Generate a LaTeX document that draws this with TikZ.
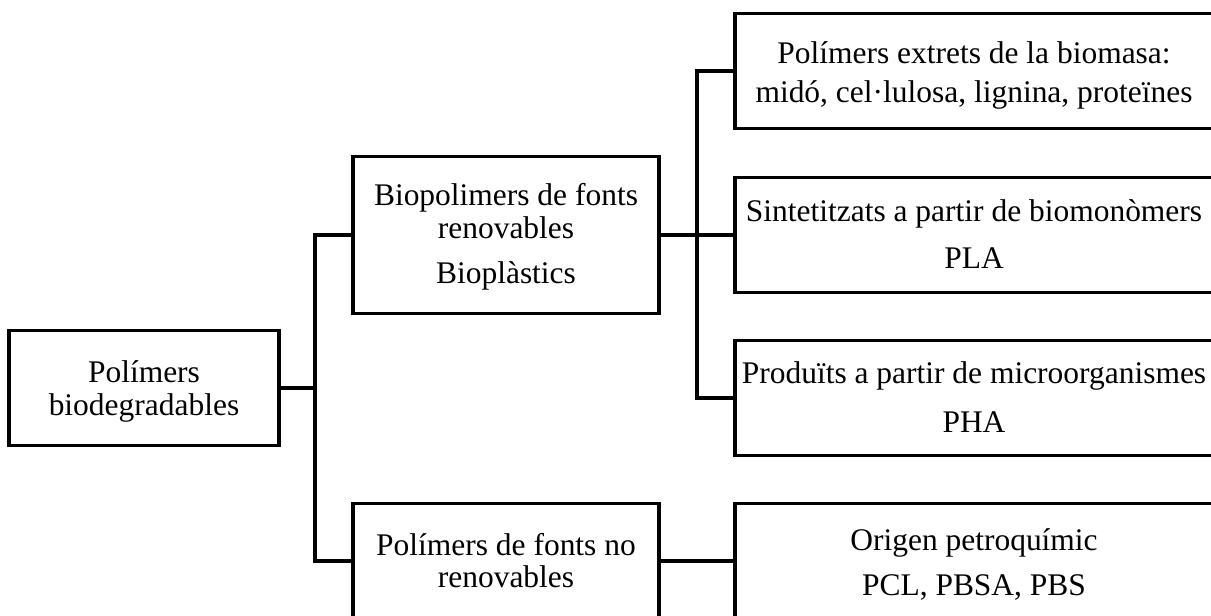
\documentclass[tikz,border=0pt]{standalone}
\usepackage{fontspec}
\setmainfont{Liberation Serif}
\begin{document}
\begin{tikzpicture}[x=0.75pt,y=-0.75pt,
  box/.style={draw, line width=2.7pt, rectangle, inner sep=0pt},
  txt/.style={anchor=base, inner sep=0pt, font=\fontsize{23.6}{28}\selectfont},
  conn/.style={line width=2.7pt}]
\useasboundingbox (0,0) rectangle (1211,615);
\clip (0,0) rectangle (1211,615);
% boxes
\node[box, minimum width=202.5pt, minimum height=86.25pt] (A) at (144,388) {};
\node[box, minimum width=229.5pt, minimum height=117.75pt] (B) at (506,235) {};
\node[box, minimum width=229.5pt, minimum height=86.25pt] (C) at (506,561) {};
\node[box, minimum width=360pt, minimum height=86.25pt] (R1) at (975,71) {};
\node[box, minimum width=360pt, minimum height=86.25pt] (R2) at (975,235) {};
\node[box, minimum width=360pt, minimum height=86.25pt] (R3) at (975,398) {};
\node[box, minimum width=360pt, minimum height=86.25pt] (R4) at (975,561) {};
% texts
\node[txt] (A1) at (144,382) {Polímers};
\node[txt] (A2) at (144,415) {biodegradables};
\node[txt] (B1) at (506,205) {Biopolimers de fonts};
\node[txt] (B2) at (506,238) {renovables};
\node[txt] (B3) at (506,283) {Bioplàstics};
\node[txt] (C1) at (506,555) {Polímers de fonts no};
\node[txt] (C2) at (506,587) {renovables};
\node[txt] (R11) at (974,63) {Polímers extrets de la biomasa:};
\node[txt] (R12) at (974,102) {midó, cel·lulosa, lignina, proteïnes};
\node[txt] (R21) at (974,221) {Sintetitzats a partir de biomonòmers};
\node[txt] (R22) at (974,268) {PLA};
\node[txt] (R31) at (974,383) {Produïts a partir de microorganismes};
\node[txt] (R32) at (974,432) {PHA};
\node[txt] (R41) at (974,550) {Origen petroquímic};
\node[txt] (R42) at (974,595) {PCL, PBSA, PBS};
% connectors
\coordinate (t1) at (315,0);
\coordinate (t2) at (697,0);
\draw[conn] (A.east) -- (A.east -| t1);
\draw[conn] (B.west) -- (B.west -| t1) -- (C.west -| t1) -- (C.west);
\draw[conn] (B.east) -- (R2.west);
\draw[conn] (R1.west) -- (R1.west -| t2) -- (R3.west -| t2) -- (R3.west);
\draw[conn] (C.east) -- (R4.west);
\end{tikzpicture}
\end{document}
